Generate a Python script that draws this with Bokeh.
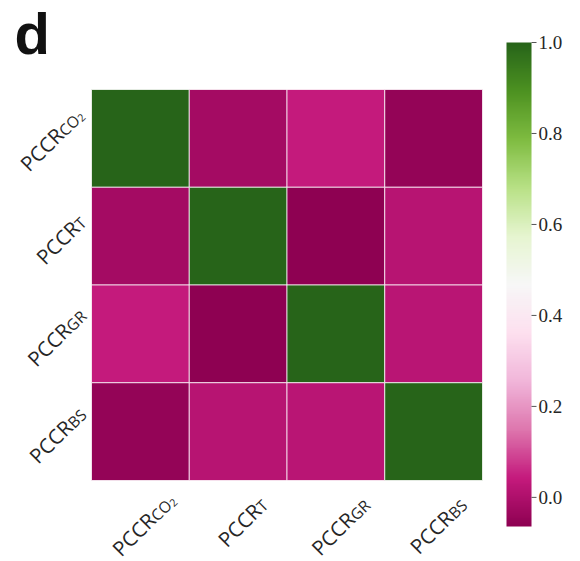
import numpy as np
from bokeh.plotting import figure
from bokeh.models import ColumnDataSource, LinearColorMapper, Range1d, Label
from bokeh.embed import file_html
from bokeh.resources import INLINE

# Tick labels: main text, subscript, second-level subscript
label_main = ["PCCR", "PCCR", "PCCR", "PCCR"]
label_sub = ["CO", "T", "GR", "BS"]
label_subsub = ["2", "", "", ""]

# Correlation matrix (rows/cols in label order)
corr = [
    [1.000, -0.019, 0.040, -0.049],
    [-0.019, 1.000, -0.064, 0.019],
    [0.040, -0.064, 1.000, 0.021],
    [-0.049, 0.019, 0.021, 1.000],
]
cbar_ticks = [0.0, 0.2, 0.4, 0.6, 0.8, 1.0]
vmin, vmax = -0.064, 1.0

# PiYG anchor colours, interpolated to a smooth 256-step palette
piyg = ["#8e0152", "#c51b7d", "#de77ae", "#f1b6da", "#fde0ef", "#f7f7f7",
        "#e6f5d0", "#b8e186", "#7fbc41", "#4d9221", "#276419"]


def interp_palette(anchors, n=256):
    rgb = np.array([[int(c[i:i + 2], 16) for i in (1, 3, 5)] for c in anchors], float)
    pos = np.linspace(0, 1, len(anchors))
    out = []
    for tt in np.linspace(0, 1, n):
        r, g, b = (np.interp(tt, pos, rgb[:, k]) for k in range(3))
        out.append("#%02x%02x%02x" % (int(round(r)), int(round(g)), int(round(b))))
    return out


palette = interp_palette(piyg)
mapper = LinearColorMapper(palette=palette, low=vmin, high=vmax)

# Page geometry (pixels): the canvas is one big frame; the heatmap and the
# colour bar get their own ranges that place them inside it.
W, H = 580, 561
HM_L, HM_R, HM_T, HM_B = 91, 482, 89, 480
CB_L, CB_R, CB_T, CB_B = 506, 531, 42, 526

n = len(label_sub)


def span_range(lo_px, hi_px, lo_val, hi_val, total):
    """Range over [0, total] px such that lo_val sits at lo_px and hi_val at hi_px."""
    k = (hi_val - lo_val) / (hi_px - lo_px)
    return lo_val - lo_px * k, lo_val + (total - lo_px) * k


cx0, cx1 = span_range(HM_L, HM_R, 0, n, W)
# rows run downwards: canvas y (from top) -> row index
ry0, ry1 = span_range(HM_T, HM_B, 0, n, H)
# colour bar values run upwards: canvas y (from top) -> value
cv0, cv1 = span_range(CB_T, CB_B, vmax, vmin, H)

p = figure(width=W, height=H, x_range=Range1d(0, W), y_range=Range1d(H, 0),
           x_axis_location=None, y_axis_location=None, toolbar_location=None,
           output_backend="svg", min_border=0)
p.extra_x_ranges = {"col": Range1d(cx0, cx1)}
p.extra_y_ranges = {"row": Range1d(ry1, ry0), "cbar": Range1d(cv1, cv0)}
p.outline_line_color = None
p.grid.visible = False
p.background_fill_color = "white"
p.border_fill_color = "white"

xs, ys, vals = [], [], []
for i in range(n):
    for j in range(n):
        xs.append(j + 0.5)
        ys.append(i + 0.5)
        vals.append(corr[i][j])
src = ColumnDataSource(dict(x=xs, y=ys, v=vals))

p.rect(x="x", y="y", width=1, height=1, source=src,
       x_range_name="col", y_range_name="row",
       fill_color={"field": "v", "transform": mapper},
       line_color="white", line_width=1, line_alpha=0.75)

# Rotated tick labels with subscripts
F = 20.5
CAP = 0.714
ADV = {"P": 0.60, "C": 0.63, "R": 0.62, "O": 0.78, "T": 0.56, "G": 0.73,
       "B": 0.65, "S": 0.55, "2": 0.57}
C45 = np.cos(np.pi / 4)
TXT = "#262626"
FONT = "Open Sans"


def pieces_for(k):
    parts = [(label_main[k], F, 0.0),
             (label_sub[k], 0.76 * F, 0.12 * F)]
    if label_subsub[k]:
        parts.append((label_subsub[k], 0.52 * F, 0.28 * F))
    placed = []
    s = 0.0
    for txt, size, shift in parts:
        w = sum(ADV.get(ch, 0.6) for ch in txt) * size
        placed.append((txt, size, shift, s, w))
        s += w
    return placed


def offsets(s, t):
    # canvas offsets (y down) for a point s along the 45-degree baseline, t below it
    return C45 * (s + t), C45 * (-s + t)


def bbox(placed):
    pts = []
    for txt, size, shift, s0, w in placed:
        for s in (s0, s0 + w):
            for t in (shift - CAP * size, shift):
                pts.append(offsets(s, t))
    pts = np.array(pts)
    return pts[:, 0].min(), pts[:, 0].max(), pts[:, 1].min(), pts[:, 1].max()


def add_label(placed, x, y, ox, oy):
    for txt, size, shift, s0, w in placed:
        dx, dy = offsets(s0, shift)
        p.add_layout(Label(x=x, y=y, x_range_name="col", y_range_name="row",
                           x_offset=ox + dx, y_offset=-(oy + dy), text=txt,
                           angle=45, angle_units="deg", text_font=FONT,
                           text_font_size=f"{size:.1f}px", text_color=TXT,
                           text_align="left", text_baseline="alphabetic"))


PAD_X = 14
PAD_Y = 8
for k in range(n):
    placed = pieces_for(k)
    x0, x1, y0, y1 = bbox(placed)
    # bottom axis: centred under the column, top of rotated box below the heatmap
    add_label(placed, k + 0.5, n, -(x0 + x1) / 2, PAD_X - y0)
    # left axis: right edge of rotated box left of the heatmap, centred on the row
    add_label(placed, 0, k + 0.5, -PAD_Y - x1, -(y0 + y1) / 2)

# Panel letter
p.add_layout(Label(x=14, y=33, text="d", text_font="Liberation Sans",
                   text_font_style="bold", text_font_size="58px",
                   text_color="#111111", text_align="left",
                   text_baseline="middle"))

# Colour bar: gradient image, tick marks and tick labels on the value range
grad = np.linspace(vmin, vmax, 512).reshape(-1, 1)
p.image(image=[grad], x=CB_L, y=vmin, dw=CB_R - CB_L, dh=vmax - vmin,
        color_mapper=mapper, y_range_name="cbar")
p.segment(x0=[CB_R] * len(cbar_ticks), x1=[CB_R + 5] * len(cbar_ticks),
          y0=cbar_ticks, y1=cbar_ticks, y_range_name="cbar",
          line_color="#555555", line_width=1)
p.text(x=[CB_R + 7] * len(cbar_ticks), y=cbar_ticks,
       text=["%.1f" % t for t in cbar_ticks], y_range_name="cbar",
       text_font="Liberation Sans", text_font_size="19px", text_color=TXT,
       text_align="left", text_baseline="middle")

open("out.html", "w").write(file_html(p, INLINE))
